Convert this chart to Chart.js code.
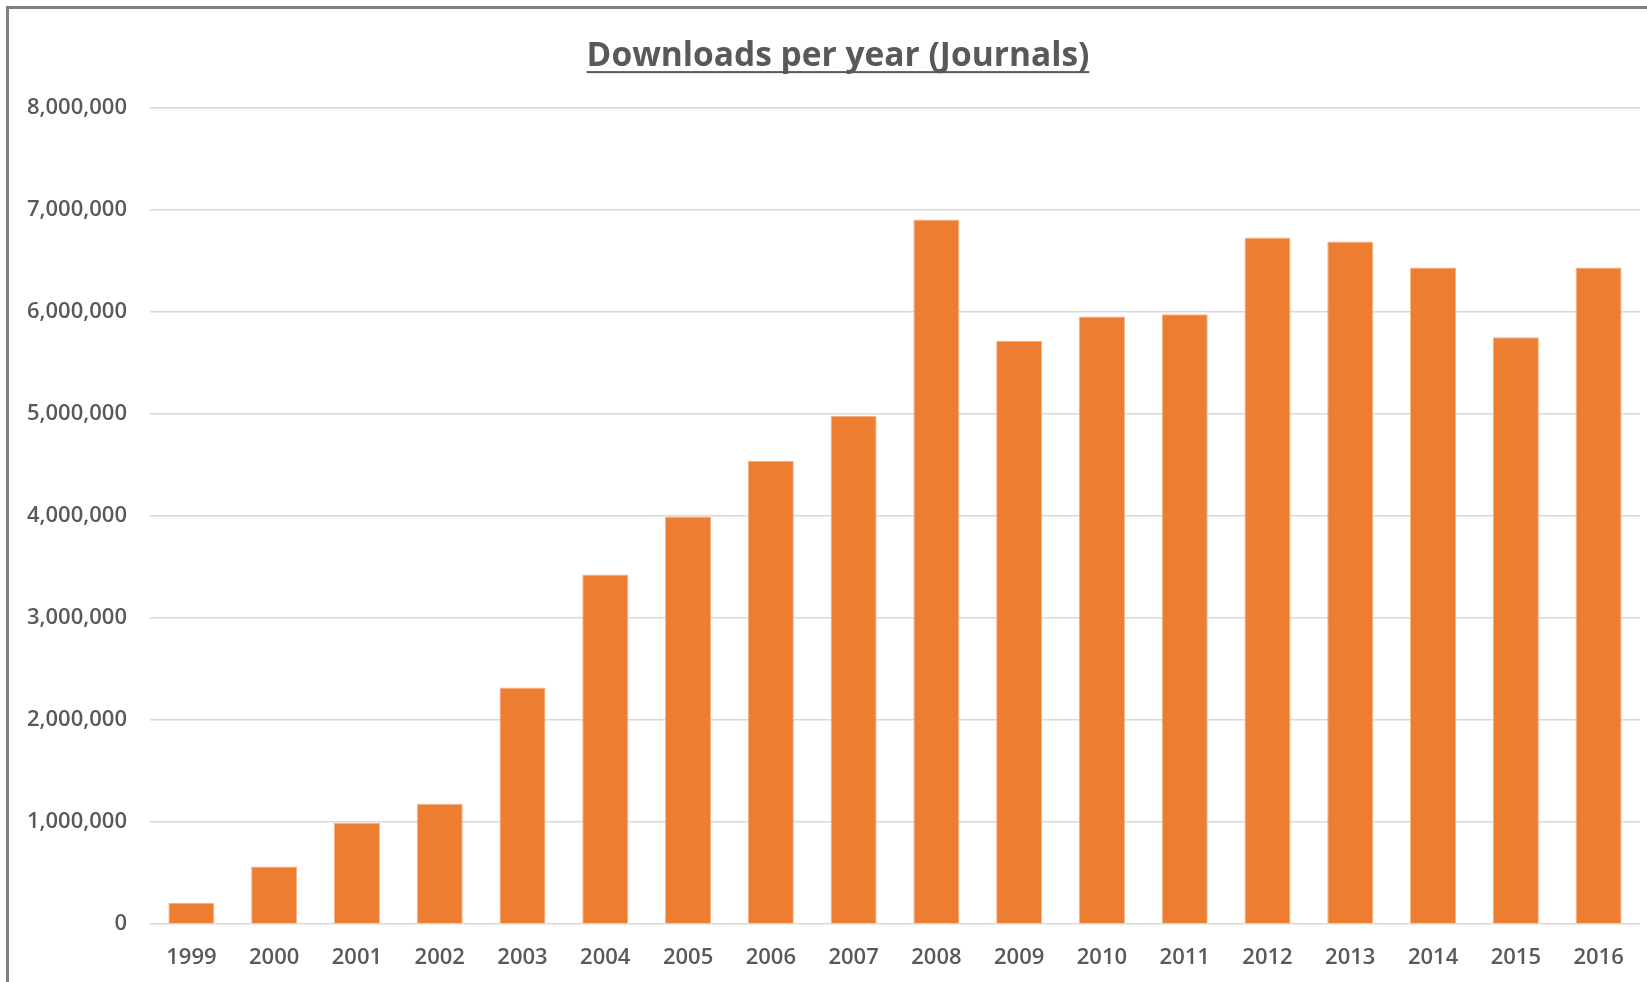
<!DOCTYPE html>
<html>
<head>
<meta charset="utf-8">
<script src="https://cdn.jsdelivr.net/npm/chart.js@4.4.1/dist/chart.umd.min.js"></script>
<style>
  html, body { margin: 0; padding: 0; background: #fff; }
  #wrap { position: relative; width: 1647px; height: 982px; overflow: hidden; }
  #grafico { position: absolute; left: 0; top: 0; }
  #marco { position: absolute; left: 6px; top: 6px; right: 0; bottom: 0; border-left: 3px solid #7f7f7f; border-top: 3px solid #7f7f7f; pointer-events: none; }
</style>
</head>
<body>
<div id="wrap">
  <canvas id="grafico" width="1647" height="982"></canvas>
  <div id="marco"></div>
</div>
<script>
const titulo = 'Downloads per year (Journals)';
const anios = ['1999','2000','2001','2002','2003','2004','2005','2006','2007','2008','2009','2010','2011','2012','2013','2014','2015','2016'];
const descargas = [205000, 563000, 992000, 1180000, 2320000, 3428000, 3995000, 4542000, 4983000, 6908000, 5719000, 5958000, 5980000, 6732000, 6693000, 6438000, 5755000, 6438000];
const ejeMin = 0, ejeMax = 8000000, ejePaso = 1000000;

const gris = '#595959';
const fuenteEjes = { family: '"Open Sans", sans-serif', size: 22, weight: '600' };
const fuenteTitulo = { family: '"Open Sans", sans-serif', size: 33.5, weight: 'bold' };

// el titulo va centrado un poco a la derecha, y subrayado (Chart.js no lo trae)
const subrayado = {
  id: 'subrayado',
  afterLayout(chart) { if (chart.titleBlock) chart.titleBlock.left = 36; },
  afterDraw(chart) {
    const tb = chart.titleBlock; if (!tb) return;
    const ctx = chart.ctx;
    ctx.save();
    ctx.font = `bold ${fuenteTitulo.size}px ${fuenteTitulo.family}`;
    const w = ctx.measureText(titulo).width;
    const cx = (tb.left + tb.right) / 2;
    const cy = tb.top + tb.options.padding.top + fuenteTitulo.size * 1.2 / 2;
    ctx.fillStyle = gris;
    ctx.fillRect(cx - w / 2, cy + 15, w, 2);
    ctx.restore();
  }
};

new Chart(document.getElementById('grafico'), {
  type: 'bar',
  data: { labels: anios, datasets: [{ data: descargas, backgroundColor: '#ED7D31', borderColor: '#F4B084', borderWidth: 1, barPercentage: 0.556, categoryPercentage: 1 }] },
  options: {
    responsive: false, animation: false,
    layout: { padding: { left: 0, right: 7, top: 0, bottom: 0 } },
    plugins: {
      legend: { display: false }, tooltip: { enabled: false },
      title: { display: true, text: titulo, color: gris, font: fuenteTitulo, padding: { top: 36, bottom: 32 } }
    },
    scales: {
      x: {
        grid: { display: false }, border: { display: false },
        ticks: { color: gris, font: fuenteEjes, padding: 13, maxRotation: 0 },
        afterFit(s) { s.height = 58; }
      },
      y: {
        min: ejeMin, max: ejeMax,
        grid: { color: '#d9d9d9', lineWidth: 1.5, drawTicks: false }, border: { display: false },
        ticks: { stepSize: ejePaso, color: gris, font: fuenteEjes, padding: 23, callback: v => v.toLocaleString('en-US') },
        afterFit(s) { s.width = 150; }
      }
    }
  },
  plugins: [subrayado]
});
</script>
</body>
</html>
